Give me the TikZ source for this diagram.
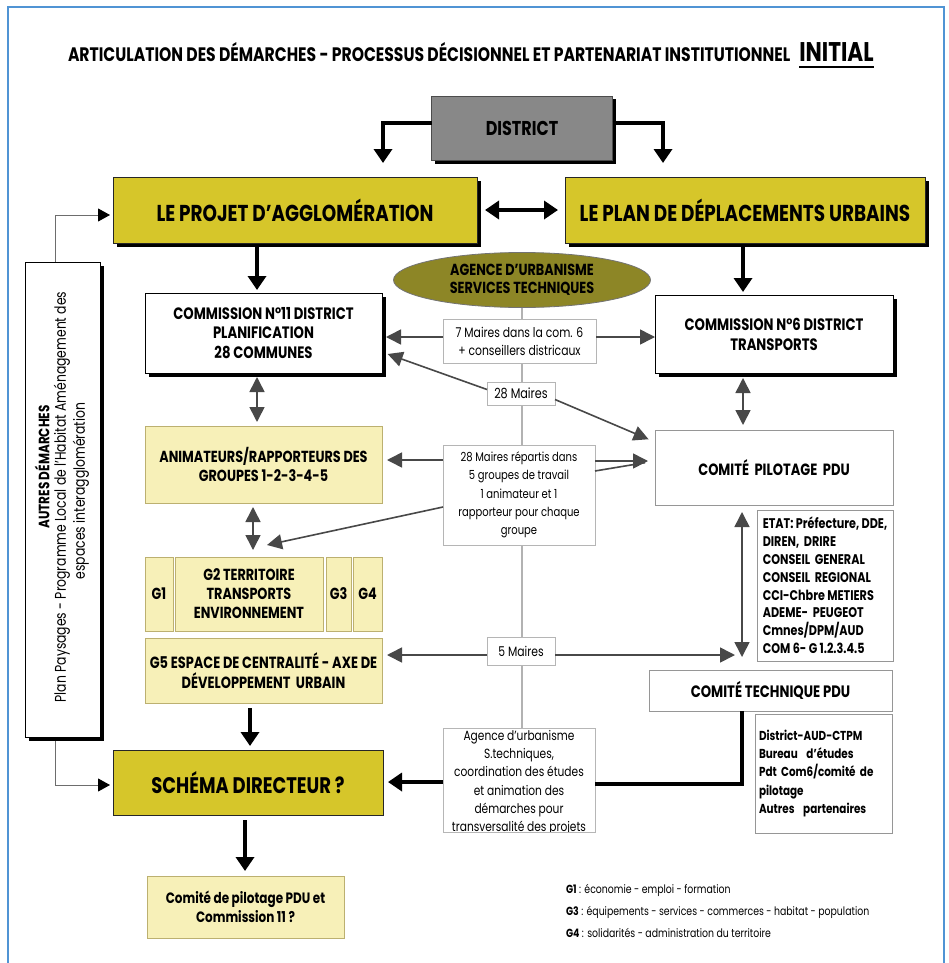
\documentclass[tikz,border=0pt]{standalone}
\usepackage{fontspec}
\setmainfont{Poppins}[FakeStretch=0.8]
\usetikzlibrary{arrows.meta,shadows,shapes.geometric,calc}

\definecolor{frameblue}{RGB}{80,148,212}
\definecolor{darkyel}{RGB}{214,198,42}
\definecolor{lightyel}{RGB}{247,240,184}
\definecolor{ltborder}{RGB}{188,176,112}
\definecolor{olivefill}{RGB}{141,134,38}
\definecolor{distgray}{RGB}{136,136,136}
\definecolor{arrowgray}{RGB}{72,72,72}
\definecolor{linegray}{RGB}{178,178,178}
\definecolor{boxgray}{RGB}{150,150,150}

\newcommand\fbld[2]{\fontsize{#1}{#2}\selectfont\bfseries}
\newcommand\freg[2]{\fontsize{#1}{#2}\selectfont}

\tikzset{
  every node/.style={align=center, inner sep=0pt, outer sep=0pt},
  hardshadow/.style={drop shadow={shadow xshift=3.5pt, shadow yshift=-3.5pt, fill=black, opacity=1}},
  mainbox/.style={draw=black!85, line width=0.8pt, fill=darkyel},
  whitebox/.style={draw=black, line width=0.8pt, fill=white},
  greybox/.style={draw=boxgray, line width=0.8pt, fill=white},
  paleybox/.style={draw=ltborder, line width=0.8pt, fill=lightyel},
  labelbox/.style={draw=boxgray!70, line width=0.7pt, fill=white, font=\freg{13}{18.3}},
  thickline/.style={draw=black, line width=4pt},
  thickarrow/.style={thickline, -{Triangle[width=18pt,length=14pt]}},
  thickdbl/.style={thickline, {Triangle[width=18pt,length=14pt]}-{Triangle[width=18pt,length=14pt]}},
  garrow/.style={draw=arrowgray, line width=1.6pt, -{Triangle[width=15pt,length=15pt]}},
  gdbl/.style={draw=arrowgray, line width=1.6pt, {Triangle[width=15pt,length=15pt]}-{Triangle[width=15pt,length=15pt]}},
  gline/.style={draw=arrowgray, line width=1.6pt},
  centreline/.style={draw=linegray, line width=1.4pt},
  sideline/.style={draw=arrowgray!80, line width=0.9pt, -{Triangle[width=13pt,length=12pt,color=black]}}
}

\begin{document}
\begin{tikzpicture}[x=1pt,y=-1pt]
\useasboundingbox (0,0) rectangle (949,963);
\fill[white] (0,0) rectangle (949,963);
\draw[frameblue, line width=1.6pt] (8,990) -- (8,7) -- (944,7) -- (944,990);

% heading
\node[anchor=base west, font=\fbld{19.5}{22}] (title) at (68,62)
  {ARTICULATION DES DÉMARCHES - PROCESSUS DÉCISIONNEL ET PARTENARIAT INSTITUTIONNEL};
\node[anchor=base west, font=\fbld{27}{30}] (initial) at ([xshift=9pt]title.base east) {INITIAL};
\draw[line width=2.2pt] ($(initial.base west)+(0,5)$) -- ($(initial.base east)+(0,5)$);

% top level
\node[fill=distgray, draw=black!70, line width=0.8pt, hardshadow, minimum width=181, minimum height=64,
      font=\fbld{20}{22}] (district) at (522,128) {DISTRICT};
\node[mainbox, hardshadow, minimum width=364, minimum height=66, font=\fbld{23}{26}] (projet) at (295,210)
  {LE PROJET D'AGGLOMÉRATION};
\node[mainbox, hardshadow, minimum width=360, minimum height=66, font=\fbld{23}{26}] (pdu) at (745,210)
  {LE PLAN DE DÉPLACEMENTS URBAINS};

\draw[thickarrow, shorten >=14pt] ([yshift=5pt]district.west) -| ([xshift=88pt]projet.north);
\draw[thickarrow, shorten >=14pt] ([yshift=5pt]district.east) -| ([xshift=-82pt]pdu.north);
\draw[thickdbl, shorten <=8pt, shorten >=7pt] (projet.east) -- (pdu.west);

% agency ellipse
\node[ellipse, draw=black!55, line width=0.8pt, fill=olivefill, minimum width=257, minimum height=55,
      font=\fbld{16}{18.5}] (agency) at (522,280) {AGENCE D'URBANISME\\SERVICES TECHNIQUES};

% commissions
\node[whitebox, hardshadow, minimum width=237, minimum height=80, font=\fbld{16.5}{19.5}] (com11) at (263.5,333)
  {COMMISSION N°11 DISTRICT\\PLANIFICATION\\28 COMMUNES};
\node[whitebox, hardshadow, minimum width=238, minimum height=78, font=\fbld{16.5}{20}] (com6) at (774,334)
  {COMMISSION N°6 DISTRICT\\TRANSPORTS};

% working groups
\node[paleybox, minimum width=237, minimum height=77, font=\fbld{16}{19.5}] (anim) at (263.5,464.5)
  {ANIMATEURS/RAPPORTEURS DES\\GROUPES 1-2-3-4-5};
\node[paleybox, minimum width=28, minimum height=74, font=\fbld{16}{19}] (g1) at (159,594) {G1};
\node[paleybox, minimum width=148, minimum height=74, font=\fbld{16}{19}] (g2) at (249,594)
  {G2 TERRITOIRE\\TRANSPORTS\\ENVIRONNEMENT};
\node[paleybox, minimum width=25, minimum height=74, font=\fbld{16}{19}] (g3) at (338.5,594) {G3};
\node[paleybox, minimum width=29, minimum height=74, font=\fbld{16}{19}] (g4) at (367.5,594) {G4};
\node[paleybox, minimum width=237, minimum height=65, font=\fbld{16.2}{19.5}] (g5) at (263.5,670.5)
  {G5 ESPACE DE CENTRALITÉ - AXE DE\\DÉVELOPPEMENT~ URBAIN};

\node[mainbox, minimum width=270, minimum height=65, font=\fbld{22.5}{25}] (schema) at (248,782.5)
  {SCHÉMA DIRECTEUR ?};
\node[paleybox, minimum width=197, minimum height=62, font=\fbld{15}{19}] (final) at (245.5,907)
  {Comité de pilotage PDU et\\Commission 11 ?};

% PDU committees
\node[greybox, minimum width=238, minimum height=75, font=\fbld{16.3}{19}] (cpil) at (774,467.5)
  {COMITÉ~ PILOTAGE~ PDU};
\node[greybox, minimum width=136, minimum height=151, font=\fbld{14}{17.8}, align=left]
  (etat) at (825,585.5)
  {ETAT: Préfecture, DDE,\\DIREN,~ DRIRE\\CONSEIL~ GENERAL\\CONSEIL~ REGIONAL\\CCI-Chbre METIERS\\ADEME-~ PEUGEOT\\Cmnes/DPM/AUD\\COM 6- G 1.2.3.4.5};
\node[greybox, minimum width=243, minimum height=41, font=\fbld{16.5}{19}] (ctech) at (770.5,690.5)
  {COMITÉ TECHNIQUE PDU};
\node[greybox, minimum width=137, minimum height=119, font=\fbld{13}{18.3}, align=left, text width=129]
  (daud) at (823.5,773.5)
  {District-AUD-CTPM\\Bureau~ d'études\\Pdt Com6/comité de\\pilotage\\Autres~ partenaires};

% other approaches
\node[whitebox, hardshadow, minimum width=75, minimum height=475] (autres) at (62.5,499.5) {};
\node[rotate=90, font=\fbld{15}{18}] (autres1) at (42,467) {AUTRES DÉMARCHES};
\node[rotate=90, font=\freg{15.5}{18}] (autres2) at (62,497)
  {Plan Paysages - Programme Local de l'Habitat Aménagement des};
\node[rotate=90, font=\freg{15.5}{18}] (autres3) at (81,491) {espaces interagglomération};

% central link behind the label boxes
\draw[centreline] (agency.south) -- (agency.south |- 0,728);

% label boxes on the central link
\node[labelbox, minimum width=153, minimum height=44, font=\freg{13.5}{18}] (m7) at (519.5,341)
  {7 Maires dans la com. 6\\+ conseillers districaux};
\node[labelbox, minimum width=68, minimum height=23, font=\freg{14}{16}] (m28) at (521,393.5) {28 Maires};
\node[labelbox, minimum width=152, minimum height=100, font=\freg{12.5}{18.3}] (rep) at (519,495)
  {28 Maires répartis dans\\5 groupes de travail\\1 animateur et 1\\rapporteur pour chaque\\groupe};
\node[labelbox, minimum width=68, minimum height=28, font=\freg{13.5}{15}] (m5) at (521,651) {5 Maires};
\node[labelbox, minimum width=152, minimum height=104] (agence) at (519,780) {};
\begin{scope}
  \clip (agence.north west) rectangle (agence.south east);
  \node[anchor=north, font=\freg{13.3}{18.3}] (agencetxt) at ([yshift=-2pt]agence.north)
    {Agence d'urbanisme\\S.techniques,\\coordination des études\\et animation des\\démarches pour\\transversalité des projets};
\end{scope}
\draw[boxgray!70, line width=0.7pt] (agence.north west) rectangle (agence.south east);

% grey connectors
\draw[garrow, shorten >=4pt] ([yshift=4pt]m7.west) -- ([yshift=4pt]m7.west -| com11.east);
\draw[garrow] ([yshift=4pt]m7.east) -- ([yshift=4pt]m7.east -| com6.west);
\draw[garrow, shorten >=6pt] ([yshift=4pt]m28.west) -- ([yshift=-19pt]com11.east);
\draw[garrow, shorten >=7pt] ([yshift=-6pt]m28.east) -- ([yshift=25.5pt]cpil.west);
\draw[gdbl, shorten <=4pt, shorten >=4pt] ([xshift=-6.5pt]com11.south) -- ([xshift=-6.5pt]anim.north);
\draw[gdbl, shorten <=5pt, shorten >=5pt] ([xshift=-31pt]com6.south) -- ([xshift=-31pt]cpil.north);
\draw[garrow, shorten >=5pt] ([yshift=35pt]rep.west) -- ([yshift=35pt]rep.west -| anim.east);
\draw[gline, shorten >=10pt] ([yshift=24pt]rep.east) -- ([yshift=6.5pt]cpil.west);
\draw[garrow, shorten >=7pt] ([yshift=34pt]rep.east) -- ([yshift=6.5pt]cpil.west);
\draw[garrow] ([yshift=-12pt]rep.west) -- ([xshift=18pt,yshift=12pt]g2.north);
\draw[gdbl, shorten <=4pt, shorten >=7pt] ([xshift=-10.5pt]anim.south) -- ([xshift=-10.5pt]anim.south |- g2.north);
\draw[garrow, shorten >=5pt] ([yshift=-4pt]m5.west) -- ([yshift=-4pt]m5.west -| g5.east);
\path ([xshift=-32pt]cpil.south) coordinate (pdulink);
\draw[garrow, shorten >=7pt] ([yshift=-4pt]m5.east) -- ([yshift=-4pt]m5.east -| pdulink);
\draw[gdbl, shorten <=7pt, shorten >=13pt] (pdulink) -- (pdulink |- ctech.north);

% black connectors
\draw[thickarrow, shorten <=4pt, shorten >=3pt] ([xshift=-38pt]projet.south) -- ([xshift=-6.5pt]com11.north);
\draw[thickarrow, shorten <=4pt, shorten >=3pt] ([xshift=-2pt]pdu.south) -- ([xshift=-2pt]pdu.south |- com6.north);
\draw[thickline] (ctech.south -| pdulink) |- ([yshift=-4pt]agence.east);
\draw[thickarrow, shorten >=5pt] ([yshift=-2pt]agence.west) -- ([yshift=-2pt]agence.west -| schema.east);
\draw[thickarrow, shorten <=5pt, shorten >=4pt] ([xshift=-13.5pt]g5.south) -- ([xshift=-13.5pt]g5.south |- schema.north);
\draw[thickarrow, shorten <=5pt, shorten >=5pt] ([xshift=-3pt]schema.south) -- ([xshift=-3pt]schema.south |- final.north);

% links from the other approaches
\draw[sideline, shorten >=3pt] ([xshift=-7.5pt]autres.north) |- ([yshift=-5pt]projet.west);
\draw[sideline, shorten >=3pt] ([xshift=-7.5pt,yshift=-4pt]autres.south) |- ([yshift=-2.5pt]schema.west);

% key to the groups
\node[anchor=west, font=\freg{11.7}{14}] (key1) at (566,890) {\textbf{G1} : économie - emploi - formation};
\node[anchor=west, font=\freg{11.7}{14}] (key3) at (566,912) {\textbf{G3} : équipements - services - commerces - habitat - population};
\node[anchor=west, font=\freg{11.7}{14}] (key4) at (566,933) {\textbf{G4} : solidarités - administration du territoire};
\end{tikzpicture}
\end{document}
